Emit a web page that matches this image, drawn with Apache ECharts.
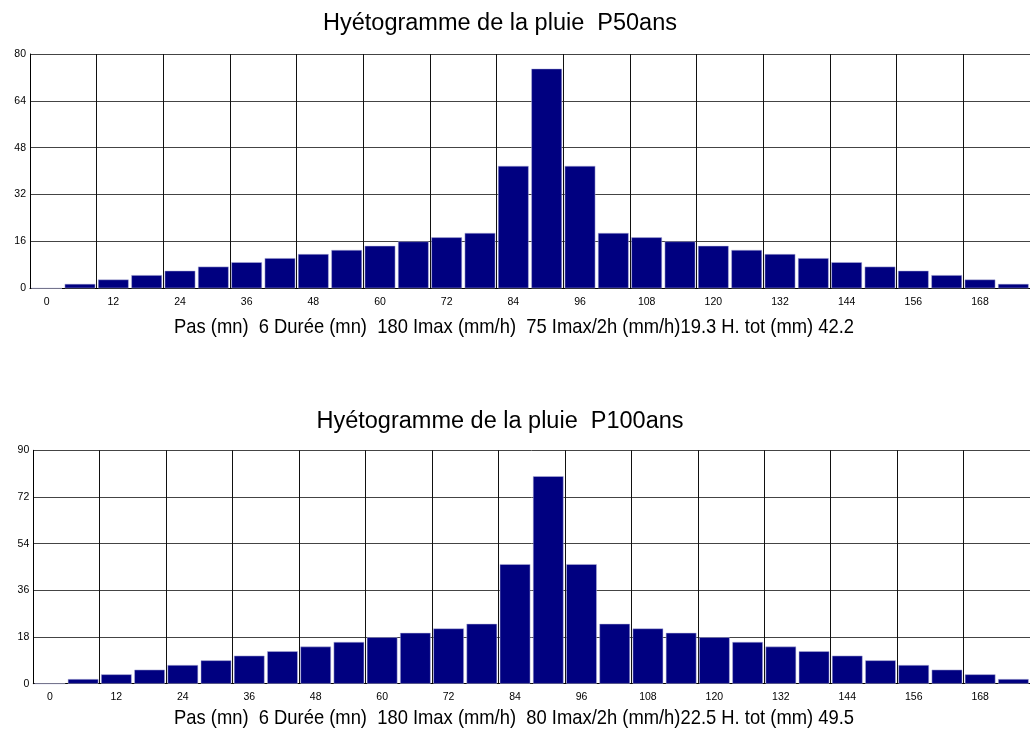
<!DOCTYPE html>
<html>
<head>
<meta charset="utf-8">
<script src="https://cdn.jsdelivr.net/npm/echarts@6/dist/echarts.min.js"></script>
<style>
html,body{margin:0;padding:0;background:#fff;}
#chart{width:1030px;height:731px;}
</style>
</head>
<body>
<div id="chart"></div>
<script>
// Time steps (mn), one per 6-minute bar
const categories = ['0','6','12','18','24','30','36','42','48','54','60','66','72','78','84','90','96','102','108','114','120','126','132','138','144','150','156','162','168','174'];

// Intensities (mm/h)
const p50 = [0, 1.5, 3.0, 4.5, 6.0, 7.4, 8.9, 10.3, 11.7, 13.1, 14.5, 16.0, 17.4, 18.9, 41.8, 75.0, 41.8, 18.9, 17.4, 16.0, 14.5, 13.1, 11.7, 10.3, 8.9, 7.4, 6.0, 4.5, 3.0, 1.5];
const p100 = [0, 1.8, 3.6, 5.4, 7.2, 9.0, 10.8, 12.5, 14.3, 16.1, 17.9, 19.6, 21.3, 23.1, 46.1, 80.0, 46.1, 23.1, 21.3, 19.6, 17.9, 16.1, 14.3, 12.5, 10.8, 9.0, 7.2, 5.4, 3.6, 1.8];

// Y axis ticks
const yAxis50 = [0, 16, 32, 48, 64, 80];
const yAxis100 = [0, 18, 36, 54, 72, 90];

const title50 = 'Hyétogramme de la pluie  P50ans';
const title100 = 'Hyétogramme de la pluie  P100ans';
const info50 = 'Pas (mn)  6 Durée (mn)  180 Imax (mm/h)  75 Imax/2h (mm/h)19.3 H. tot (mm) 42.2';
const info100 = 'Pas (mn)  6 Durée (mn)  180 Imax (mm/h)  80 Imax/2h (mm/h)22.5 H. tot (mm) 49.5';

const FONT = '"Liberation Sans", Arial, sans-serif';
const chart = echarts.init(document.getElementById('chart'));

function xAxis(gi) {
  return {
    type: 'category', gridIndex: gi, data: categories, boundaryGap: true,
    axisLine: { show: true, lineStyle: { color: '#000', width: 1 } },
    axisTick: { show: false },
    axisLabel: { interval: 1, color: '#000', fontSize: 10.5, fontFamily: FONT, margin: 8 },
    splitLine: { show: true, interval: 1, lineStyle: { color: '#111', width: 1 } }
  };
}
function yAxis(gi, ticks) {
  return {
    type: 'value', gridIndex: gi, min: ticks[0], max: ticks[ticks.length - 1],
    interval: ticks[1] - ticks[0],
    axisLine: { show: true, lineStyle: { color: '#000', width: 1 } },
    axisTick: { show: false },
    axisLabel: { color: '#000', fontSize: 10.5, fontFamily: FONT, margin: 4 },
    splitLine: { show: true, lineStyle: { color: '#444', width: 1 } }
  };
}
function barSeries(gi, data) {
  return {
    type: 'bar', xAxisIndex: gi, yAxisIndex: gi, data: data,
    barCategoryGap: '8%',
    itemStyle: { color: '#000080', borderColor: '#b8b8dc', borderWidth: 0.5 },
    emphasis: { disabled: true }, animation: false
  };
}

chart.setOption({
  animation: false,
  grid: [
    { left: 30, top: 54, width: 1012, height: 234.3, containLabel: false },
    { left: 33.3, top: 450.3, width: 1009, height: 233.4, containLabel: false }
  ],
  xAxis: [xAxis(0), xAxis(1)],
  yAxis: [yAxis(0, yAxis50), yAxis(1, yAxis100)],
  series: [barSeries(0, p50), barSeries(1, p100)],
  graphic: [
    { type: 'text', x: 500, y: 24, style: { text: title50, font: '23.5px ' + FONT, fill: '#000', align: 'center', verticalAlign: 'middle' } },
    { type: 'text', x: 500, y: 422, style: { text: title100, font: '23.5px ' + FONT, fill: '#000', align: 'center', verticalAlign: 'middle' } },
    { type: 'text', x: 174, y: 327, scaleX: 0.875, style: { text: info50, font: '21px ' + FONT, fill: '#000', align: 'left', verticalAlign: 'middle' } },
    { type: 'text', x: 174, y: 718, scaleX: 0.875, style: { text: info100, font: '21px ' + FONT, fill: '#000', align: 'left', verticalAlign: 'middle' } }
  ]
});
</script>
</body>
</html>
